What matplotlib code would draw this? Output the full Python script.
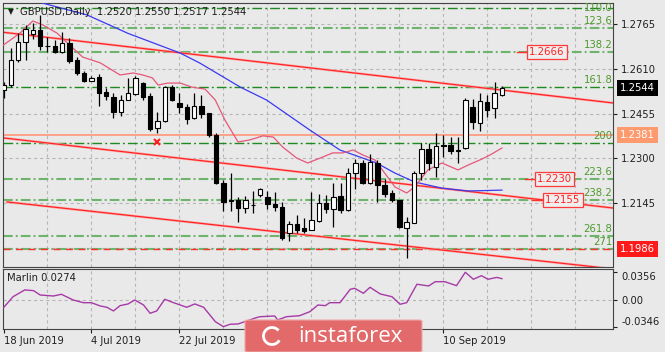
#!/usr/bin/env python

import numpy as np
import pandas as pd
import matplotlib
matplotlib.use('Agg')
from matplotlib import pyplot as plt
from matplotlib import transforms
from matplotlib.patches import FancyBboxPatch, Arc

plt.rcParams['font.family'] = ['DejaVu Sans']
plt.rcParams['font.size'] = 7.2
plt.rcParams['lines.scale_dashes'] = False

# daily GBPUSD bars
dates = pd.bdate_range('2019-06-18', periods=69)
opens = [1.2537, 1.2554, 1.2641, 1.2703, 1.2731, 1.2745, 1.2689, 1.2689, 1.2669, 1.2700,
         1.2641, 1.2596, 1.2568, 1.2582, 1.2530, 1.2513, 1.2461, 1.2502, 1.2523, 1.2561,
         1.2516, 1.2405, 1.2430, 1.2547, 1.2492, 1.2478, 1.2440, 1.2481, 1.2457, 1.2381,
         1.2215, 1.2152, 1.2156, 1.2128, 1.2138, 1.2173, 1.2166, 1.2142, 1.2132, 1.2041,
         1.2073, 1.2059, 1.2052, 1.2083, 1.2145, 1.2125, 1.2170, 1.2121, 1.2249, 1.2284,
         1.2215, 1.2284, 1.2208, 1.2180, 1.2156, 1.2059, 1.2076, 1.2249, 1.2332, 1.2270,
         1.2346, 1.2346, 1.2329, 1.2336, 1.2478, 1.2423, 1.2495, 1.2475, 1.2520]
highs = [1.2565, 1.2683, 1.2734, 1.2762, 1.2769, 1.2797, 1.2721, 1.2710, 1.2738, 1.2717,
         1.2651, 1.2603, 1.2585, 1.2592, 1.2544, 1.2527, 1.2520, 1.2579, 1.2585, 1.2565,
         1.2527, 1.2461, 1.2551, 1.2554, 1.2527, 1.2488, 1.2527, 1.2520, 1.2457, 1.2388,
         1.2225, 1.2249, 1.2166, 1.2170, 1.2187, 1.2197, 1.2187, 1.2183, 1.2149, 1.2083,
         1.2104, 1.2093, 1.2183, 1.2177, 1.2173, 1.2215, 1.2215, 1.2267, 1.2298, 1.2294,
         1.2315, 1.2294, 1.2229, 1.2190, 1.2156, 1.2097, 1.2256, 1.2353, 1.2353, 1.2388,
         1.2381, 1.2374, 1.2374, 1.2509, 1.2506, 1.2527, 1.2520, 1.2565, 1.2550]
lows = [1.2509, 1.2547, 1.2634, 1.2641, 1.2714, 1.2676, 1.2669, 1.2665, 1.2665, 1.2631,
        1.2589, 1.2565, 1.2568, 1.2481, 1.2502, 1.2440, 1.2447, 1.2502, 1.2520, 1.2502,
        1.2395, 1.2388, 1.2426, 1.2499, 1.2457, 1.2419, 1.2436, 1.2440, 1.2374, 1.2211,
        1.2118, 1.2118, 1.2080, 1.2111, 1.2111, 1.2166, 1.2125, 1.2118, 1.2017, 1.2014,
        1.2041, 1.2041, 1.2052, 1.2080, 1.2111, 1.2062, 1.2111, 1.2118, 1.2194, 1.2211,
        1.2211, 1.2149, 1.2166, 1.2149, 1.2059, 1.1955, 1.2076, 1.2225, 1.2260, 1.2235,
        1.2305, 1.2315, 1.2284, 1.2332, 1.2402, 1.2395, 1.2443, 1.2440, 1.2517]
closes = [1.2554, 1.2641, 1.2703, 1.2748, 1.2745, 1.2689, 1.2690, 1.2669, 1.2700, 1.2637,
          1.2596, 1.2568, 1.2579, 1.2527, 1.2516, 1.2461, 1.2502, 1.2527, 1.2579, 1.2513,
          1.2402, 1.2430, 1.2547, 1.2502, 1.2478, 1.2436, 1.2481, 1.2454, 1.2381, 1.2215,
          1.2149, 1.2156, 1.2128, 1.2156, 1.2139, 1.2194, 1.2142, 1.2132, 1.2024, 1.2073,
          1.2052, 1.2048, 1.2086, 1.2145, 1.2125, 1.2166, 1.2121, 1.2249, 1.2284, 1.2215,
          1.2287, 1.2208, 1.2177, 1.2156, 1.2062, 1.2080, 1.2249, 1.2332, 1.2284, 1.2343,
          1.2342, 1.2326, 1.2326, 1.2502, 1.2426, 1.2499, 1.2468, 1.2527, 1.2544]

# moving averages (bar index, price)
blue_idx = [5.2, 11.4, 17.0, 24.1, 26.8, 32.3, 35.9, 41.8, 45.9, 50.9, 53.4, 56.1, 59.8, 63.4, 68.0]
blue_val = [1.2839, 1.2797, 1.2733, 1.2665, 1.2630, 1.2547, 1.2502, 1.2398, 1.2329, 1.2284,
            1.2249, 1.2218, 1.2197, 1.2187, 1.2190]
pink_idx = [0, 2.25, 4.0, 5.4, 7.3, 8.7, 10.8, 13.2, 15.9, 17.7, 19.0, 20.3, 21.1, 22.4, 24.1,
            25.7, 27.5, 28.9, 30.2, 32.0, 33.6, 35.4, 36.8, 38.1, 40.0, 41.5, 43.2, 44.9, 46.3,
            47.7, 49.0, 50.7, 52.0, 53.4, 55.0, 56.1, 57.9, 59.8, 62.0, 63.4, 65.3, 66.6, 68.0]
pink_val = [1.2693, 1.2734, 1.2776, 1.2762, 1.2734, 1.2700, 1.2651, 1.2631, 1.2589, 1.2596,
            1.2589, 1.2579, 1.2554, 1.2561, 1.2561, 1.2547, 1.2540, 1.2502, 1.2433, 1.2357,
            1.2364, 1.2378, 1.2374, 1.2339, 1.2301, 1.2284, 1.2301, 1.2319, 1.2319, 1.2329,
            1.2312, 1.2294, 1.2249, 1.2201, 1.2180, 1.2201, 1.2260, 1.2284, 1.2260, 1.2277,
            1.2298, 1.2315, 1.2336]

# descending channel lines (start/end bar index, start/end price)
upper_line = ([-0.07, 83.15], [1.2737, 1.2492])
middle_line = ([-0.07, 83.15], [1.2371, 1.2128])
lower_line = ([0.48, 83.15], [1.2149, 1.1917])

fib_labels = ['110.0', '123.6', '138.2', '161.8', '200', '223.6', '238.2', '261.8', '271']
fib_prices = [1.2820, 1.2751, 1.2670, 1.2548, 1.2353, 1.2230, 1.2155, 1.2032, 1.1986]
fib_dark = [True, False, False, True, True, False, False, False, False]

target_labels = ['1.2666', '1.2230', '1.2155']
target_prices = [1.2670, 1.2230, 1.2155]
target_start = [70.1, 71.1, 72.1]
target_box = [71.7, 72.8, 73.9]

level_orange = 1.2381
level_red = 1.1986
last_close = 1.2544
cross_idx, cross_price = 21, 1.2357

price_ticks = [1.2765, 1.2610, 1.2455, 1.2300, 1.2145, 1.1990]

# Marlin oscillator (bar index, value)
marlin_idx = [0, 1.3, 2.9, 4.1, 5.0, 6.8, 7.9, 9.5, 10.9, 12.0, 13.2, 14.1, 15.0, 15.9, 17.0,
              17.9, 19.1, 20.0, 20.9, 22.0, 23.2, 25.0, 26.1, 27.3, 28.9, 30.0, 30.9, 32.0,
              32.9, 34.5, 35.0, 37.0, 37.4, 38.6, 40.4, 41.8, 42.9, 43.9, 44.5, 45.9, 47.3,
              47.9, 49.1, 50.0, 51.4, 53.0, 54.1, 55.0, 56.4, 58.0, 58.9, 60.2, 61.8, 63.0,
              64.1, 65.2, 66.1, 67.3, 68.0]
marlin_val = [-0.0099, 0.0042, 0.0129, 0.0120, 0.0064, 0.0051, 0.0073, 0.0000, -0.0035, -0.0035,
              -0.0077, -0.0094, -0.0141, -0.0073, -0.0051, 0.0000, -0.0064, -0.0171, -0.0141,
              0.0009, -0.0035, -0.0094, -0.0051, -0.0094, -0.0279, -0.0343, -0.0312, -0.0308,
              -0.0279, -0.0227, -0.0215, -0.0206, -0.0257, -0.0215, -0.0202, -0.0150, -0.0064,
              -0.0073, -0.0035, -0.0035, 0.0137, 0.0150, 0.0086, 0.0163, 0.0077, 0.0042, -0.0055,
              -0.0035, 0.0202, 0.0180, 0.0235, 0.0235, 0.0184, 0.0356, 0.0266, 0.0312, 0.0266,
              0.0290, 0.0274]
marlin_ticks = [0.0356, 0.0, -0.0346]
marlin_tick_labels = ['0.0356', '0.00', '-0.0346']

date_labels = ['2019-06-18', '2019-07-04', '2019-07-22', '2019-09-10']

bg = '#e9e9e9'
grid_kw = dict(color='#b5b5b5', lw=0.8, linestyle=(0, (2.2, 2.2)), zorder=0.5)
xmax = 83.15

fig = plt.figure(figsize=(6.65, 3.52), dpi=100, facecolor=bg)
ax = fig.add_axes([3/665, 85/352, 610/665, 264/352], facecolor=bg)
ax2 = fig.add_axes([3/665, 23/352, 610/665, 60/352], facecolor=bg)

x = np.arange(len(opens))
o, h, l, c = map(np.array, (opens, highs, lows, closes))

for g in np.arange(6, xmax, 6):
  ax.axvline(g - 0.07, **grid_kw)
  ax2.axvline(g - 0.07, **grid_kw)
for p in price_ticks:
  ax.axhline(p, **grid_kw)
ax2.axhline(0, **grid_kw)

# fibonacci levels
for lab, p, dark in zip(fib_labels, fib_prices, fib_dark):
  col = '#1f8a1f' if dark else '#6db56d'
  ax.axhline(p, color=col, lw=1.0 if dark else 1.5, linestyle=(0, (7, 2.2, 1.4, 2.2)), zorder=1)
  # the top label is pushed just inside the frame
  ty = min(p + 0.0006, 1.2835 - 0.0032)
  ax.text(xmax - 0.1, ty, lab, color='#4f9a2c', ha='right', va='bottom', fontsize=7.3, zorder=6)
ax.axhline(level_red, color='#ff3030', lw=1.0, linestyle=(0, (5, 4)), zorder=1.5)

ax.axhline(level_orange, color='#ff9c80', lw=1.3, zorder=1.5)
for xs, ys in (upper_line, middle_line, lower_line):
  ax.plot(xs, ys, color='#ffa0a0', lw=1.7, zorder=2)
  ax.plot(xs, ys, color='#ff2020', lw=0.8, zorder=2.1)

ax.plot(blue_idx, blue_val, color='#3a3af2', lw=0.9, zorder=3)
ax.plot(pink_idx, pink_val, color='#e6577a', lw=0.9, zorder=3)

# candles
up = c >= o
ax.vlines(x, l, h, color='black', lw=0.9, zorder=4)
body_lo = np.minimum(o, c)
body_h = np.maximum(np.abs(c - o), 0.00004)
ax.bar(x, body_h, bottom=body_lo, width=0.6, color=np.where(up, 'white', 'black'),
       edgecolor='black', lw=0.8, zorder=5)

ax.plot(cross_idx, cross_price, marker='x', color='#ff2020', ms=4, mew=1.5, zorder=6)

for lab, p, x0, xb in zip(target_labels, target_prices, target_start, target_box):
  ax.plot([x0, xb - 0.4], [p, p], color='#ff3030', lw=1.0, zorder=6)
  ax.text(xb, p, lab, color='#ff2020', ha='left', va='center', fontsize=7.3, zorder=7,
          bbox=dict(boxstyle='square,pad=0.2', fc='#eeeeee', ec='#ff3a3a', lw=0.9))

ax.set_xlim(-0.07, xmax)
ax.set_ylim(1.19236, 1.28384)
ax.set_xticks([])
ax.yaxis.tick_right()
ax.set_yticks(price_ticks[:-1])
ax.set_yticklabels(['%.4f' % p for p in price_ticks[:-1]])
ax.tick_params(axis='y', length=3, width=0.8, pad=3, labelsize=7.2, colors='#202020')

# price boxes on the right scale
trans = transforms.blended_transform_factory(ax.transAxes, ax.transData)
for p, fc in ((last_close, 'black'), (level_orange, '#fd9a6e'), (level_red, '#ff1a1a')):
  ax.text(1.0 + 7/610, p, '%.4f' % p, transform=trans, color='white', ha='left', va='center',
          fontsize=7.2, zorder=8, clip_on=False,
          bbox=dict(boxstyle='square,pad=0.3', fc=fc, ec='none'))

for a in (ax, ax2):
  for s in a.spines.values():
    s.set_color('#444444')
    s.set_linewidth(0.8)

# oscillator panel
ax2.plot(marlin_idx, marlin_val, color='#a63aa6', lw=1.0, zorder=3)
ax2.set_xlim(-0.07, xmax)
ax2.set_ylim(-0.0373, 0.0398)
ax2.yaxis.tick_right()
ax2.set_yticks(marlin_ticks)
ax2.set_yticklabels(marlin_tick_labels)
tl = ax2.get_yticklabels()
tl[0].set_va('top')
tl[2].set_va('bottom')
ax2.tick_params(axis='y', length=3, width=0.8, pad=3, labelsize=7.2, colors='#202020')

pos = [dates.get_loc(pd.Timestamp(d)) for d in date_labels]
ax2.set_xticks(pos)
ax2.set_xticklabels(['%d %s' % (dates[p].day, dates[p].strftime('%b %Y')) for p in pos], ha='left')
ax2.tick_params(axis='x', length=3, width=0.8, pad=2, labelsize=7.2, colors='#202020')

fig.text(8/665, 1 - 11.5/352, '\u25bc', fontsize=5.5, color='#202020', va='center', ha='left')
fig.text(20/665, 1 - 12/352, 'GBPUSD,Daily  1.2520 1.2550 1.2517 1.2544', fontsize=7.2,
         color='#202020', va='center', ha='left')
fig.text(7/665, 1 - 278/352, 'Marlin 0.0274', fontsize=7.2, color='#202020', va='center', ha='left')

# watermark logo
logo = FancyBboxPatch((245/665, 0), 177/665, 32/352, boxstyle='round,pad=0,rounding_size=0.004',
                      transform=fig.transFigure, fc='#e26a6a', ec='#f0a8a8', lw=0.8, zorder=10)
fig.patches.append(logo)
fig.add_artist(Arc((272, 16), 17, 17, theta1=40, theta2=330, color='white', lw=2.0,
                   transform=None, zorder=11))
fig.text(350/665, 1 - 337/352, 'instaforex', color='white', fontsize=16, family='Open Sans',
         ha='center', va='center', zorder=11)

fig.savefig('out.png', dpi=100, facecolor=fig.get_facecolor())
